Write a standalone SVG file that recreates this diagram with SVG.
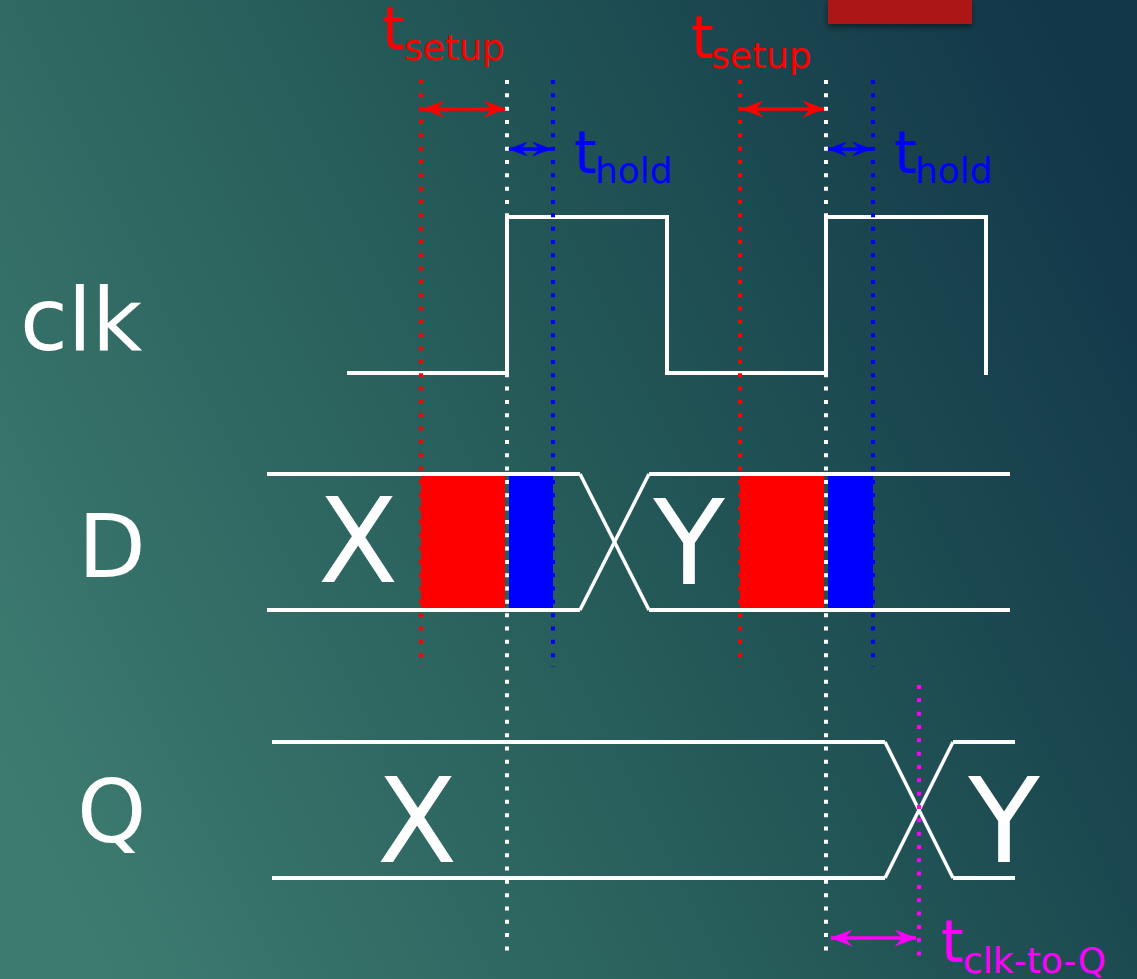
<svg xmlns="http://www.w3.org/2000/svg" width="1137" height="979" viewBox="0 0 1137 979">
  <defs>
    <linearGradient id="bg" gradientUnits="userSpaceOnUse" x1="0" y1="760" x2="1137" y2="200">
      <stop offset="0" stop-color="#3d7b70"/>
      <stop offset="0.5" stop-color="#255a58"/>
      <stop offset="1" stop-color="#123749"/>
    </linearGradient>
    <filter id="shadow" x="-20%" y="-50%" width="140%" height="250%">
      <feGaussianBlur in="SourceAlpha" stdDeviation="3"/>
      <feOffset dx="0" dy="3" result="b"/>
      <feComponentTransfer><feFuncA type="linear" slope="0.5"/></feComponentTransfer>
      <feMerge><feMergeNode/><feMergeNode in="SourceGraphic"/></feMerge>
    </filter>
    <marker id="arrRed" viewBox="0 0 20 15" refX="19" refY="7.5" markerWidth="23" markerHeight="17" markerUnits="userSpaceOnUse" orient="auto-start-reverse">
      <path d="M0,0 L20,7.5 L0,15 L7,7.5 Z" fill="#ff0000"/>
    </marker>
    <marker id="arrBlue" viewBox="0 0 20 15" refX="19" refY="7.5" markerWidth="20" markerHeight="15" markerUnits="userSpaceOnUse" orient="auto-start-reverse">
      <path d="M0,0 L20,7.5 L0,15 L7,7.5 Z" fill="#0000ff"/>
    </marker>
    <marker id="arrMag" viewBox="0 0 20 15" refX="19" refY="7.5" markerWidth="23" markerHeight="17" markerUnits="userSpaceOnUse" orient="auto-start-reverse">
      <path d="M0,0 L20,7.5 L0,15 L7,7.5 Z" fill="#ff00ff"/>
    </marker>
  </defs>
  <style>
    .lbl { font-family: "DejaVu Sans", "Liberation Sans", sans-serif; fill: #ffffff; }
    .val { font-family: "DejaVu Sans", "Liberation Sans", sans-serif; fill: #ffffff; font-size: 117px; text-anchor: middle; }
    .tm { font-family: "DejaVu Sans", "Liberation Sans", sans-serif; }
    .big { font-size: 58px; }
    .sub { font-size: 36px; }
    .wave { fill: none; stroke: #ffffff; stroke-width: 4; stroke-linejoin: miter; }
    .cross { fill: none; stroke: #ffffff; stroke-width: 3.5; }
    .dot { fill: none; stroke-width: 4; stroke-dasharray: 4 9.33; }
    .arrow { fill: none; stroke-width: 3.5; }
  </style>

  <rect id="background" x="0" y="0" width="1137" height="979" fill="url(#bg)"/>
  <rect id="title-bar" x="828" y="0" width="144" height="24" fill="#ac1616" filter="url(#shadow)"/>

  <!-- setup/hold windows -->
  <g id="windows">
    <rect x="421" y="474" width="84" height="136" fill="#ff0000"/>
    <rect x="509" y="474" width="44" height="136" fill="#0000ff"/>
    <rect x="740" y="474" width="84" height="136" fill="#ff0000"/>
    <rect x="828" y="474" width="45" height="136" fill="#0000ff"/>
  </g>

  <!-- signal labels -->
  <g id="label-clk"><text class="lbl" x="20" y="350" font-size="87">clk</text></g>
  <g id="label-D"><text class="lbl" x="78" y="577" font-size="88">D</text></g>
  <g id="label-Q"><text class="lbl" x="77" y="842" font-size="88">Q</text></g>

  <!-- waveforms -->
  <g id="wave-clk">
    <polyline class="wave" points="347,373 507,373 507,217 667,217 667,373 826,373 826,217 986,217 986,375"/>
  </g>
  <g id="wave-D">
    <polyline class="wave" points="267,474 580,474"/>
    <polyline class="wave" points="267,610 580,610"/>
    <line class="cross" x1="580" y1="474" x2="649" y2="610"/>
    <line class="cross" x1="580" y1="610" x2="649" y2="474"/>
    <polyline class="wave" points="649,474 1010,474"/>
    <polyline class="wave" points="649,610 1010,610"/>
    <text class="val" x="358" y="582">X</text>
    <text class="val" x="689" y="584">Y</text>
  </g>
  <g id="wave-Q">
    <polyline class="wave" points="272,742 885,742"/>
    <polyline class="wave" points="272,878 885,878"/>
    <line class="cross" x1="885" y1="742" x2="953" y2="878"/>
    <line class="cross" x1="885" y1="878" x2="953" y2="742"/>
    <polyline class="wave" points="953,742 1015,742"/>
    <polyline class="wave" points="953,878 1015,878"/>
    <text class="val" x="417" y="862">X</text>
    <text class="val" x="1004" y="862">Y</text>
  </g>

  <!-- dotted timing markers -->
  <g id="markers">
    <line class="dot" stroke="#ff0000" x1="421" y1="80" x2="421" y2="667"/>
    <line class="dot" stroke="#ffffff" x1="507" y1="80" x2="507" y2="957"/>
    <line class="dot" stroke="#0000ff" x1="553" y1="80" x2="553" y2="667"/>
    <line class="dot" stroke="#ff0000" x1="740" y1="80" x2="740" y2="667"/>
    <line class="dot" stroke="#ffffff" x1="826" y1="80" x2="826" y2="957"/>
    <line class="dot" stroke="#0000ff" x1="873" y1="80" x2="873" y2="667"/>
    <line class="dot" stroke="#ff00ff" x1="919" y1="685" x2="919" y2="957"/>
  </g>

  <!-- connectors (timing arrows) -->
  <g id="connectors">
    <line class="arrow" stroke="#ff0000" x1="423" y1="109" x2="505" y2="109" marker-start="url(#arrRed)" marker-end="url(#arrRed)"/>
    <line class="arrow" stroke="#0000ff" x1="509" y1="149" x2="551" y2="149" marker-start="url(#arrBlue)" marker-end="url(#arrBlue)"/>
    <line class="arrow" stroke="#ff0000" x1="742" y1="109" x2="824" y2="109" marker-start="url(#arrRed)" marker-end="url(#arrRed)"/>
    <line class="arrow" stroke="#0000ff" x1="828" y1="149" x2="871" y2="149" marker-start="url(#arrBlue)" marker-end="url(#arrBlue)"/>
    <line class="arrow" stroke="#ff00ff" x1="831" y1="938" x2="916" y2="938" marker-start="url(#arrMag)" marker-end="url(#arrMag)"/>
  </g>

  <!-- timing labels -->
  <g id="label-tsetup-1" fill="#ff0000">
    <text class="tm big" x="382" y="49">t</text>
    <text class="tm sub" x="404" y="60">setup</text>
  </g>
  <g id="label-thold-1" fill="#0000ff">
    <text class="tm big" x="574" y="173">t</text>
    <text class="tm sub" x="595" y="183">hold</text>
  </g>
  <g id="label-tsetup-2" fill="#ff0000">
    <text class="tm big" x="691" y="58">t</text>
    <text class="tm sub" x="711" y="68">setup</text>
  </g>
  <g id="label-thold-2" fill="#0000ff">
    <text class="tm big" x="894" y="173">t</text>
    <text class="tm sub" x="915" y="183">hold</text>
  </g>
  <g id="label-tclk-to-q" fill="#ff00ff">
    <text class="tm big" x="941" y="962">t</text>
    <text class="tm sub" x="963" y="973">clk-to-Q</text>
  </g>
</svg>
